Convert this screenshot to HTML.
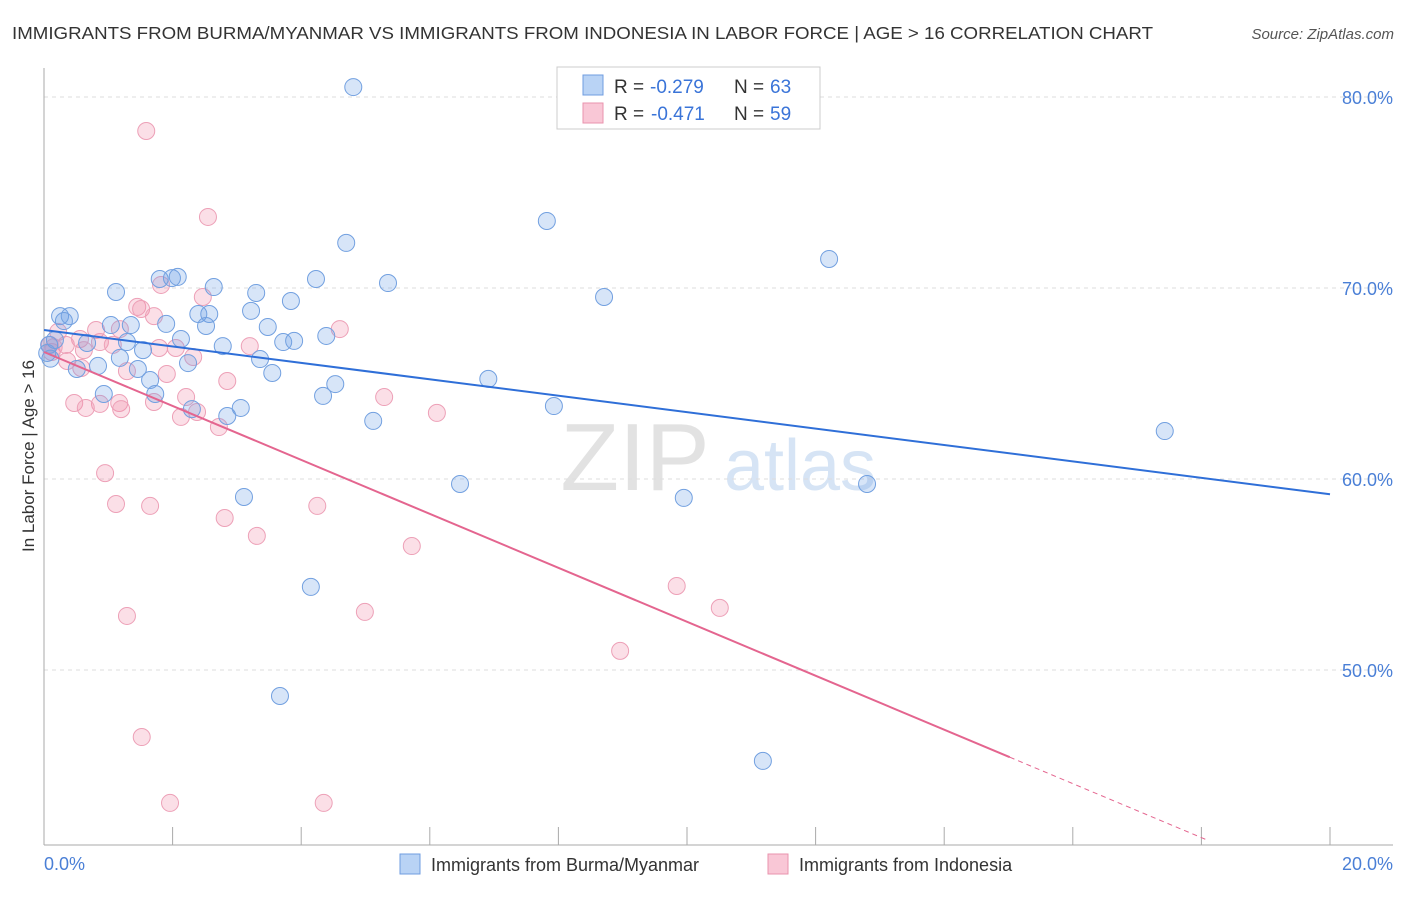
<!DOCTYPE html>
<html><head><meta charset="utf-8"><style>
body{margin:0;background:#fff;font-family:"Liberation Sans",sans-serif;}
svg text{font-family:"Liberation Sans",sans-serif;}
</style></head><body>
<svg width="1406" height="892" viewBox="0 0 1406 892">
<text x="12" y="39" font-size="17.5" fill="#333" textLength="1141" lengthAdjust="spacingAndGlyphs">IMMIGRANTS FROM BURMA/MYANMAR VS IMMIGRANTS FROM INDONESIA IN LABOR FORCE | AGE &gt; 16 CORRELATION CHART</text>
<text x="1394" y="39" font-size="15" fill="#555" font-style="italic" text-anchor="end">Source: ZipAtlas.com</text>
<g>
<text x="635" y="490" font-size="96" fill="#e2e2e2" font-family="Liberation Serif,serif" text-anchor="middle">ZIP</text>
<text x="800" y="490" font-size="72" fill="#d6e4f5" text-anchor="middle">atlas</text>
</g>
<g id="grid"></g>
<g id="axes"></g>
<g id="pts"></g>
<g id="lines"></g>
<text x="34" y="456" font-size="17" fill="#333" text-anchor="middle" transform="rotate(-90 34 456)">In Labor Force | Age &gt; 16</text>
<g>
<rect x="557" y="67" width="263" height="62" fill="#fff" stroke="#ccc"/>
<rect x="583" y="75" width="20" height="20" fill="#b9d3f5" stroke="#6f9de0"/>
<rect x="583" y="103" width="20" height="20" fill="#f9c7d6" stroke="#e993ad"/>
<g font-size="19">
<text x="614" y="93" fill="#333">R =</text><text x="650" y="93" fill="#3a74d8">-0.279</text>
<text x="734" y="93" fill="#333">N =</text><text x="770" y="93" fill="#3a74d8">63</text></g>
<g font-size="19">
<text x="614" y="120" fill="#333">R =</text><text x="651" y="120" fill="#3a74d8">-0.471</text>
<text x="734" y="120" fill="#333">N =</text><text x="770" y="120" fill="#3a74d8">59</text></g>
</g>
<g>
<rect x="400" y="854" width="20" height="20" fill="#b9d3f5" stroke="#6f9de0"/>
<text x="431" y="871" font-size="18" fill="#333">Immigrants from Burma/Myanmar</text>
<rect x="768" y="854" width="20" height="20" fill="#f9c7d6" stroke="#e993ad"/>
<text x="799" y="871" font-size="18" fill="#333">Immigrants from Indonesia</text>
</g>
</svg>
<script>
const yTicks=[80,70,60,50];
const yTickLabels=["80.0%","70.0%","60.0%","50.0%"];
const xTickLabels=["0.0%","20.0%"];
const blueX=[4.81,7.82,4.70,12.21,1.99,2.08,1.80,4.23,5.35,2.64,1.12,3.30,8.71,3.84,3.22,2.40,2.57,0.25,0.40,1.90,1.04,1.35,2.52,3.48,4.39,2.13,3.72,3.89,0.67,1.29,2.78,1.54,0.31,0.08,0.17,3.36,1.18,2.24,0.84,0.51,1.46,3.55,1.65,6.91,4.53,0.93,1.73,4.34,3.06,7.93,2.30,2.85,5.12,17.43,6.47,12.80,3.11,9.95,4.15,3.67,11.18,0.05,0.10];
const blueY=[80.52,73.51,72.36,71.52,70.52,70.58,70.47,70.47,70.26,70.05,69.79,69.74,69.53,69.32,68.80,68.64,68.64,68.53,68.53,68.12,68.06,68.06,68.01,67.96,67.49,67.33,67.17,67.23,67.12,67.17,66.96,66.75,68.27,67.02,67.28,66.28,66.34,66.07,65.92,65.76,65.76,65.55,65.18,65.24,64.97,64.45,64.45,64.35,63.72,63.82,63.66,63.30,63.04,62.51,59.74,59.74,59.06,59.01,54.35,48.64,45.24,66.6,66.3];
const pinkX=[1.59,2.55,1.82,2.47,1.45,1.51,1.71,0.81,1.18,4.60,0.22,0.56,0.87,0.34,1.07,1.79,2.05,3.20,0.62,0.36,2.32,1.29,1.91,0.58,2.85,5.29,2.21,0.47,0.87,1.17,1.71,0.65,1.20,2.38,2.13,2.72,6.11,0.95,1.12,1.65,4.25,2.81,3.31,5.72,9.84,10.51,4.99,1.29,8.96,1.52,1.96,4.35,0.09,0.12,0.15];
const pinkY=[78.22,73.72,70.16,69.53,69.01,68.90,68.53,67.80,67.85,67.85,67.70,67.33,67.17,67.02,67.02,66.86,66.86,66.96,66.75,66.18,66.39,65.65,65.50,65.81,65.13,64.29,64.29,63.98,63.93,63.98,64.03,63.72,63.66,63.51,63.25,62.72,63.46,60.31,58.69,58.59,58.59,57.96,57.02,56.49,54.40,53.25,53.04,52.83,51.00,46.49,43.04,43.04,67.02,66.65,66.9];
const blueTrend=[67.8,59.2];
const pinkTrend=[66.65,38.4];
const pinkSolidEnd=15.02;
const NS="http://www.w3.org/2000/svg";
const X=v=>44+v/20*1286;
const Y=v=>97+(80-v)*19.1;
function mk(tag,attrs,parent){const e=document.createElementNS(NS,tag);for(const k in attrs)e.setAttribute(k,attrs[k]);document.getElementById(parent).appendChild(e);return e;}
yTicks.forEach((t,i)=>{
 const l=mk('line',{x1:44,x2:1393,y1:Y(t),y2:Y(t),stroke:'#ddd','stroke-dasharray':'4,4'},'grid');
 
 
 const tx=mk('text',{x:1393,y:Y(t)+7,'font-size':18,fill:'#4a7fd6','text-anchor':'end'},'axes');
 tx.textContent=yTickLabels[i];
 
 
});
let ax=mk('line',{x1:44,x2:44,y1:68,y2:845,stroke:'#aaa'},'axes');


ax=mk('line',{x1:44,x2:1393,y1:845,y2:845,stroke:'#aaa'},'axes');


for(let i=0;i<=10;i++){
 const t=mk('line',{x1:X(i*2),x2:X(i*2),y1:827,y2:845,stroke:'#aaa'},'axes');
 
 
}
[[0,'start',X(0)],[1,'end',1393]].forEach(([i,a,x])=>{
 const tx=mk('text',{x:x,y:870,'font-size':18,fill:'#4a7fd6','text-anchor':a},'axes');
 tx.textContent=xTickLabels[i];
 
 
});
pinkX.forEach((v,i)=>{
 const c=mk('circle',{cx:X(v),cy:Y(pinkY[i]),r:8.5,fill:'rgba(242,140,170,0.28)',stroke:'#eda0b7','stroke-width':1},'pts');
 
 
});
blueX.forEach((v,i)=>{
 const c=mk('circle',{cx:X(v),cy:Y(blueY[i]),r:8.5,fill:'rgba(110,160,230,0.28)',stroke:'#72a0e0','stroke-width':1},'pts');
 
 
});
let ln=mk('line',{x1:X(0),y1:Y(blueTrend[0]),x2:X(20),y2:Y(blueTrend[1]),stroke:'#2f6fd8','stroke-width':2},'lines');


const pAt=x=>pinkTrend[0]+(pinkTrend[1]-pinkTrend[0])*x/20;
ln=mk('line',{x1:X(0),y1:Y(pAt(0)),x2:X(pinkSolidEnd),y2:Y(pAt(pinkSolidEnd)),stroke:'#e4658f','stroke-width':2},'lines');


ln=mk('line',{x1:X(pinkSolidEnd),y1:Y(pAt(pinkSolidEnd)),x2:X(18.1),y2:Y(pAt(18.1)),stroke:'#e4658f','stroke-width':1,'stroke-dasharray':'5,4'},'lines');


</script>
</body></html>
